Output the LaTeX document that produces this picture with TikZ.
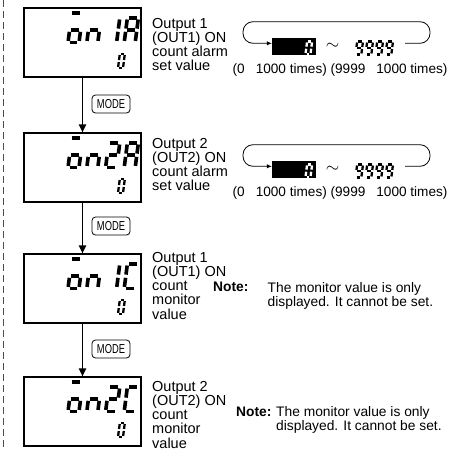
\documentclass[tikz,border=0pt]{standalone}
\usepackage{fontspec}
\setmainfont{Liberation Sans}
\newfontfamily\modefont[FakeStretch=0.72]{Liberation Sans}
\usetikzlibrary{arrows.meta}

% seven segment pieces, cell 1 wide and 2 high
\newcommand{\lcdsega}{\draw[lcdseg] (0,2) -- (1,2);}
\newcommand{\lcdsegb}{\draw[lcdseg] (1,2) -- (1,1);}
\newcommand{\lcdsegc}{\draw[lcdseg] (1,1) -- (1,0);}
\newcommand{\lcdsegd}{\draw[lcdseg] (0,0) -- (1,0);}
\newcommand{\lcdsege}{\draw[lcdseg] (0,1) -- (0,0);}
\newcommand{\lcdsegf}{\draw[lcdseg] (0,2) -- (0,1);}
\newcommand{\lcdsegg}{\draw[lcdseg] (0,1) -- (1,1);}
% #1,#2 lower left, #3 width, #4 half height, #5 line width, #6 segments
\newcommand{\lcdchar}[6]{%
  \begin{scope}[shift={(#1,#2)},x=#3,y=#4,xslant=0.13,
      lcdseg/.style={line width=#5,shorten <=0.45*#5,shorten >=0.45*#5}]
    \foreach \s in {#6} {\csname lcdseg\s\endcsname}
  \end{scope}}
% one display, #1 top of the box, #2 and #3 the last two characters
\newcommand{\lcdscreen}[3]{%
  \draw[line width=3.2pt] (71.5,#1+5) -- (79.5,#1+5);
  \lcdchar{68}{#1+34.5}{11pt}{12.3pt}{3.6pt}{c,d,e,g}
  \lcdchar{86.8}{#1+34.5}{11pt}{12.3pt}{3.6pt}{c,e,g}
  \lcdchar{105.6}{#1+34.5}{11pt}{12.3pt}{3.6pt}{#2}
  \lcdchar{124.2}{#1+34.5}{11pt}{12.3pt}{3.6pt}{#3}
  \lcdchar{118}{#1+60}{5pt}{7pt}{2.3pt}{a,b,c,d,e,f}}

\begin{document}
\begin{tikzpicture}[x=1pt,y=-1pt,
  screen/.style={draw,line width=1.1pt,minimum width=117pt,minimum height=69pt,inner sep=0pt},
  modekey/.style={draw,line width=0.8pt,rounded corners=3.5pt,minimum width=38pt,
    minimum height=18pt,inner sep=0pt,font=\modefont\fontsize{13}{13}\selectfont},
  flow/.style={line width=1.8pt,-{Triangle[length=8pt,width=7pt]}},
  caption/.style={anchor=north west,align=left,inner sep=0pt,font=\fontsize{14.5}{14.2}\selectfont},
  valbox/.style={fill=black,minimum width=44pt,minimum height=17pt,inner sep=0pt},
  cycle/.style={line width=0.8pt,rounded corners=10pt,-{Latex[length=5pt,width=4.5pt]}},
  rangetext/.style={anchor=west,inner sep=0pt,font=\fontsize{13.6}{13.6}\selectfont},
  notehead/.style={anchor=north west,inner sep=0pt,font=\bfseries\fontsize{13.8}{13.8}\selectfont},
  notebody/.style={anchor=north west,align=left,inner sep=0pt,font=\fontsize{13.8}{13.8}\selectfont}]
  \useasboundingbox (0,0) rectangle (455,450);
  \draw[black!70,line width=1pt,dash pattern=on 7pt off 4pt] (3,0) -- (3,450);

  % displays
  \node[screen] (s1) at (82.5,42.5) {};
  \node[screen] (s2) at (82.5,167.5) {};
  \node[screen] (s3) at (82.5,288.5) {};
  \node[screen] (s4) at (82.5,411.5) {};
  \lcdscreen{8}{b,c}{a,b,c,e,f,g}
  \lcdscreen{133}{a,b,g,e,d}{a,b,c,e,f,g}
  \lcdscreen{254}{b,c}{a,d,e,f}
  \lcdscreen{377}{a,b,g,e,d}{a,d,e,f}

  \node[caption] (c1) at (152,18) {Output 1\\(OUT1) ON\\count alarm\\set value};
  \node[caption] (c2) at (152,138) {Output 2\\(OUT2) ON\\count alarm\\set value};
  \node[caption] (c3) at (152,252) {Output 1\\(OUT1) ON\\count\\monitor\\value};
  \node[caption] (c4) at (152,381) {Output 2\\(OUT2) ON\\count\\monitor\\value};

  % MODE key steps
  \node[modekey] (m1) at (111,104) {MODE};
  \node[modekey] (m2) at (111,226) {MODE};
  \node[modekey] (m3) at (111,349) {MODE};
  \draw[flow] (s1) -- (s2);
  \draw[flow] (s2) -- (s3);
  \draw[flow] (s3) -- (s4);

  % setting range, output 1
  \node[valbox] (v1) at (294,46.5) {};
  \begin{scope}[white]
    \lcdchar{305.5}{54}{5pt}{6.3pt}{2.3pt}{a,b,c,d,e,f}
  \end{scope}
  \node[font=\fontsize{17}{17}\selectfont] (t1) at (332.5,46.5) {$\sim$};
  \lcdchar{355.5}{54.5}{5.8pt}{6.5pt}{2.3pt}{a,b,c,d,f,g}
  \lcdchar{365.5}{54.5}{5.8pt}{6.5pt}{2.3pt}{a,b,c,d,f,g}
  \lcdchar{375.5}{54.5}{5.8pt}{6.5pt}{2.3pt}{a,b,c,d,f,g}
  \lcdchar{385.5}{54.5}{5.8pt}{6.5pt}{2.3pt}{a,b,c,d,f,g}
  \coordinate (e1) at (405,43.3);
  \draw[cycle] (e1) -- ++(25,0) |- (243,21.7) |- ([yshift=3.2pt]v1.west);
  \node[rangetext] (r1) at (232.5,70) {(0\hspace{11pt}1000 times) (9999\hspace{11pt}1000 times)};

  % setting range, output 2
  \node[valbox] (v2) at (294,169.5) {};
  \begin{scope}[white]
    \lcdchar{305.5}{177}{5pt}{6.3pt}{2.3pt}{a,b,c,d,e,f}
  \end{scope}
  \node[font=\fontsize{17}{17}\selectfont] (t2) at (332.5,169.5) {$\sim$};
  \lcdchar{355.5}{177.5}{5.8pt}{6.5pt}{2.3pt}{a,b,c,d,f,g}
  \lcdchar{365.5}{177.5}{5.8pt}{6.5pt}{2.3pt}{a,b,c,d,f,g}
  \lcdchar{375.5}{177.5}{5.8pt}{6.5pt}{2.3pt}{a,b,c,d,f,g}
  \lcdchar{385.5}{177.5}{5.8pt}{6.5pt}{2.3pt}{a,b,c,d,f,g}
  \coordinate (e2) at (405,166.3);
  \draw[cycle] (e2) -- ++(25,0) |- (243,144.7) |- ([yshift=3.2pt]v2.west);
  \node[rangetext] (r2) at (232.5,193) {(0\hspace{11pt}1000 times) (9999\hspace{11pt}1000 times)};

  % notes
  \node[notehead] (h3) at (213,282) {Note:};
  \node[notebody] (n3) at (267.5,282) {The monitor value is only\\displayed. It cannot be set.};
  \node[notehead] (h4) at (236,406.5) {Note:};
  \node[notebody] (n4) at (276,406.5) {The monitor value is only\\displayed. It cannot be set.};
\end{tikzpicture}
\end{document}
